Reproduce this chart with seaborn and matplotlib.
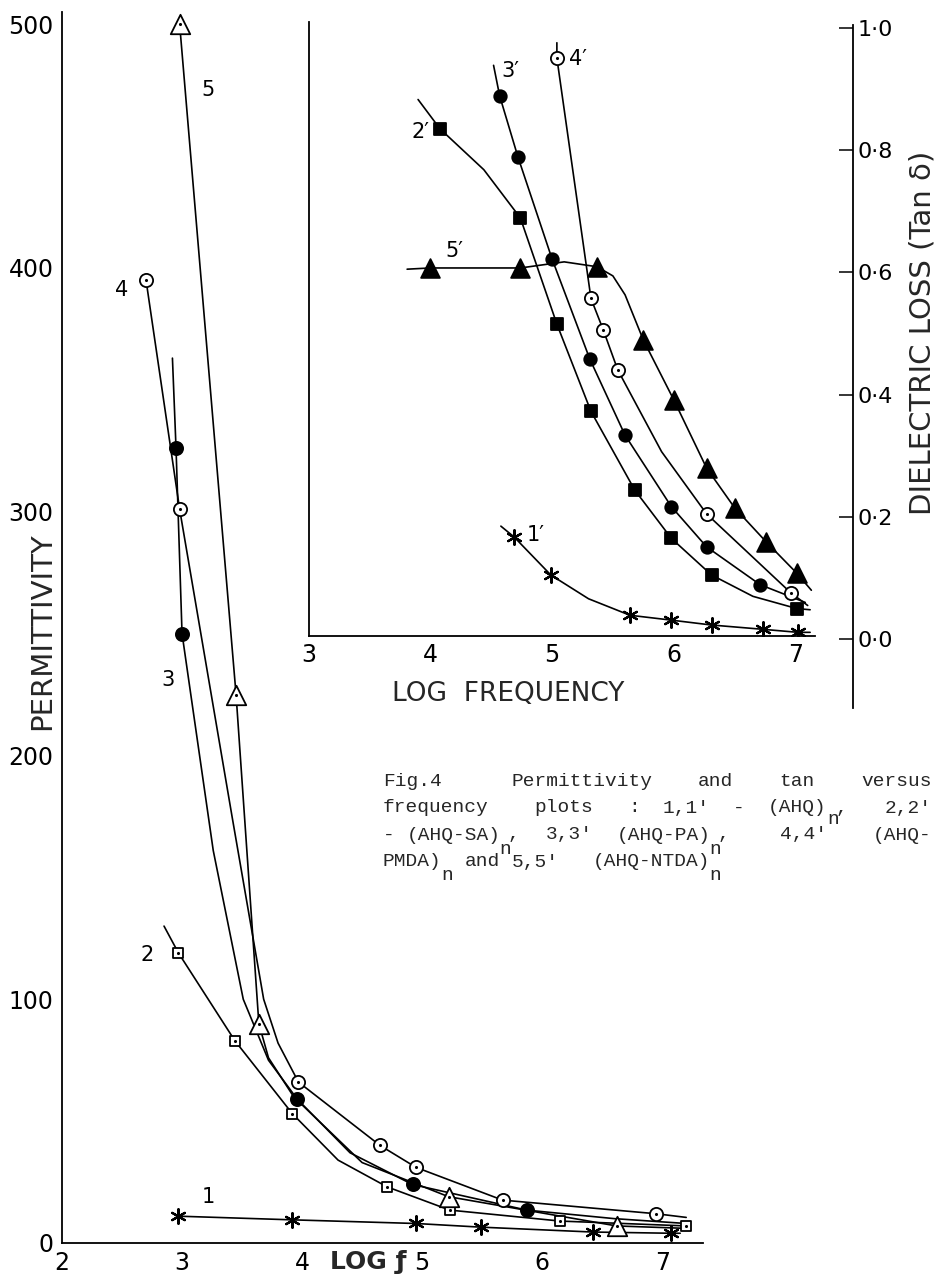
import matplotlib
matplotlib.use("Agg")
import matplotlib.pyplot as plt
import seaborn as sns

# ---------------- data ----------------
# Main plot: permittivity vs log f
p1_x = [2.97, 3.92, 4.95, 5.49, 6.42, 7.07]
p1_y = [11, 9.5, 8, 6.5, 4.5, 4]
p1_cx = [2.97, 3.92, 4.95, 5.49, 6.42, 7.07, 7.15]
p1_cy = [11, 9.5, 8, 6.5, 4.5, 4, 4]

p2_x = [2.97, 3.44, 3.92, 4.71, 5.23, 6.15, 7.20]
p2_y = [119, 83, 53, 23, 13.5, 9, 7]
p2_cx = [2.85, 2.97, 3.44, 3.92, 4.30, 4.71, 5.23, 6.15, 7.20]
p2_cy = [130, 119, 83, 53, 34, 23, 13.5, 9, 7]

p3_x = [2.95, 3.00, 3.96, 4.92, 5.87]
p3_y = [326, 250, 59, 24, 13.5]
p3_cx = [2.92, 2.95, 3.00, 3.26, 3.51, 3.72, 3.96, 4.40, 4.92, 5.87, 6.60, 7.20]
p3_cy = [363, 326, 250, 161, 100, 75, 59, 37, 24, 13.5, 10, 8]

p4_x = [2.70, 2.98, 3.97, 4.65, 4.95, 5.67, 6.95]
p4_y = [395, 301, 66, 40, 31, 17.6, 12]
p4_cx = [2.70, 2.98, 3.42, 3.68, 3.80, 3.97, 4.65, 4.95, 5.67, 6.95, 7.20]
p4_cy = [395, 301, 174, 100, 82, 66, 40, 31, 17.6, 12, 10.5]

p5_x = [2.98, 3.45, 3.64, 5.22, 6.62]
p5_y = [500, 225, 90, 19, 7]
p5_cx = [2.98, 3.45, 3.54, 3.64, 3.72, 3.93, 4.50, 5.22, 6.62, 7.20]
p5_cy = [500, 225, 161, 90, 76, 60, 33, 19, 7, 6]

main_labels = ["1", "2", "3", "4", "5"]
main_label_x = [3.22, 2.71, 2.88, 2.50, 3.22]
main_label_y = [19, 118, 231, 391, 473]

# Inset: dielectric loss (tan delta) vs log frequency
d1_x = [4.69, 4.99, 5.64, 5.98, 6.31, 6.73, 7.02]
d1_y = [0.167, 0.105, 0.039, 0.031, 0.023, 0.016, 0.011]
d1_cx = [4.58, 4.69, 4.99, 5.30, 5.64, 5.98, 6.31, 6.73, 7.02, 7.12]
d1_cy = [0.185, 0.167, 0.105, 0.066, 0.039, 0.031, 0.023, 0.016, 0.011, 0.011]

d2_x = [4.08, 4.74, 5.04, 5.32, 5.68, 5.98, 6.31, 7.01]
d2_y = [0.836, 0.69, 0.516, 0.373, 0.244, 0.165, 0.105, 0.05]
d2_cx = [3.90, 4.08, 4.44, 4.74, 5.04, 5.32, 5.68, 5.98, 6.31, 6.65, 7.01, 7.12]
d2_cy = [0.884, 0.836, 0.769, 0.69, 0.516, 0.373, 0.244, 0.165, 0.105, 0.07, 0.05, 0.048]

d3_x = [4.57, 4.72, 5.00, 5.31, 5.60, 5.98, 6.27, 6.71]
d3_y = [0.89, 0.79, 0.623, 0.459, 0.334, 0.217, 0.151, 0.089]
d3_cx = [4.52, 4.57, 4.72, 5.00, 5.31, 5.60, 5.98, 6.27, 6.71, 7.08]
d3_cy = [0.94, 0.89, 0.79, 0.623, 0.459, 0.334, 0.217, 0.151, 0.089, 0.06]

d4_x = [5.04, 5.32, 5.42, 5.54, 6.27, 6.96]
d4_y = [0.952, 0.558, 0.507, 0.441, 0.205, 0.076]
d4_cx = [5.04, 5.04, 5.32, 5.42, 5.54, 5.90, 6.27, 6.96, 7.10]
d4_cy = [0.977, 0.952, 0.558, 0.507, 0.441, 0.307, 0.205, 0.076, 0.055]

d5_x = [4.00, 4.74, 5.37, 5.75, 6.00, 6.27, 6.50, 6.76, 7.01]
d5_y = [0.608, 0.608, 0.61, 0.49, 0.392, 0.28, 0.215, 0.159, 0.108]
d5_cx = [3.81, 4.00, 4.74, 5.10, 5.37, 5.50, 5.60, 5.75, 6.00, 6.27, 6.50, 6.76, 7.01, 7.13]
d5_cy = [0.606, 0.608, 0.608, 0.618, 0.61, 0.595, 0.564, 0.49, 0.392, 0.28, 0.215, 0.159, 0.108, 0.08]

inset_labels = ["1\u2032", "2\u2032", "3\u2032", "4\u2032", "5\u2032"]
inset_label_x = [4.87, 3.92, 4.66, 5.21, 4.20]
inset_label_y = [0.17, 0.83, 0.93, 0.95, 0.635]

main_xticks = [2, 3, 4, 5, 6, 7]
main_yticks = [0, 100, 200, 300, 400, 500]
inset_xticks = [3, 4, 5, 6, 7]
loss_ticks = [0.0, 0.2, 0.4, 0.6, 0.8, 1.0]
loss_ticklabels = ["0\u00b70", "0\u00b72", "0\u00b74", "0\u00b76", "0\u00b78", "1\u00b70"]

# ---------------- figure ----------------
sns.set_style("white")
plt.rcParams["font.family"] = ["DejaVu Sans"]
W, H = 935, 1280
fig = plt.figure(figsize=(W / 100, H / 100), dpi=100)


def fx(px):
    return px / W


def fy(py):
    return 1 - py / H


LW = 1.2
K = "black"

# main axes
ax = fig.add_axes([fx(62), fy(1243), (703 - 62) / W, (1243 - 12) / H])
ax.set_xlim(2, 7.34)
ax.set_ylim(0, 505)
ax.patch.set_alpha(0)
for s in ["top", "right"]:
    ax.spines[s].set_visible(False)
for s in ["left", "bottom"]:
    ax.spines[s].set_linewidth(1.3)
    ax.spines[s].set_color(K)
ax.set_xticks(main_xticks)
ax.set_yticks(main_yticks)
ax.set_xticklabels([str(t) for t in main_xticks])
ax.set_yticklabels([str(t) for t in main_yticks])
ax.tick_params(axis="both", direction="in", length=11, width=1.1, labelsize=17, colors=K)
ax.tick_params(axis="x", pad=6)
ax.tick_params(axis="y", pad=6)


def curve(a, xs, ys):
    sns.lineplot(x=xs, y=ys, ax=a, color=K, lw=LW, sort=False, estimator=None)


def marks(a, xs, ys, marker, size, face, dot=False, lw=1.3):
    sns.scatterplot(x=xs, y=ys, ax=a, marker=marker, s=size ** 2, facecolor=face,
                    edgecolor=K, linewidth=lw, zorder=5)
    if dot:
        sns.scatterplot(x=xs, y=ys, ax=a, marker="o", s=5, color=K, linewidth=0, zorder=6)


ASTER = (6, 2, 0)

for cx, cy in [(p1_cx, p1_cy), (p2_cx, p2_cy), (p3_cx, p3_cy), (p4_cx, p4_cy), (p5_cx, p5_cy)]:
    curve(ax, cx, cy)
sns.scatterplot(x=p1_x, y=p1_y, ax=ax, marker=ASTER, s=110, color=K, linewidth=1.6, zorder=5)
marks(ax, p2_x, p2_y, "s", 7.5, "white", dot=True)
marks(ax, p3_x, p3_y, "o", 9.5, K)
marks(ax, p4_x, p4_y, "o", 9.5, "white", dot=True)
marks(ax, p5_x, p5_y, "^", 14, "white", dot=True)
for t, xx, yy in zip(main_labels, main_label_x, main_label_y):
    ax.text(xx, yy, t, fontsize=15, ha="center", va="center", color=K)
ax.set_xlabel("")
ax.set_ylabel("")

fig.text(fx(42), fy(631), "PERMITTIVITY", rotation=90, fontsize=21, ha="center", va="center")
fig.text(fx(368), fy(1262), "LOG \u0192", fontsize=18, fontweight="bold", ha="center", va="center")

# inset axes
axi = fig.add_axes([fx(308.5), fy(636), (815 - 308.5) / W, (636 - 22) / H])
axi.set_xlim(3, 7.16)
axi.set_ylim(0.005, 1.011)
axi.patch.set_alpha(0)
for s in ["top", "right"]:
    axi.spines[s].set_visible(False)
for s in ["left", "bottom"]:
    axi.spines[s].set_linewidth(1.3)
    axi.spines[s].set_color(K)
axi.set_xticks(inset_xticks)
axi.set_xticklabels([str(t) for t in inset_xticks])
axi.set_yticks([])
axi.tick_params(axis="x", direction="in", length=11, width=1.1, labelsize=17, pad=5, colors=K)

for cx, cy in [(d1_cx, d1_cy), (d2_cx, d2_cy), (d3_cx, d3_cy), (d4_cx, d4_cy), (d5_cx, d5_cy)]:
    curve(axi, cx, cy)
sns.scatterplot(x=d1_x, y=d1_y, ax=axi, marker=ASTER, s=110, color=K, linewidth=1.6, zorder=5)
marks(axi, d2_x, d2_y, "s", 8.5, K)
marks(axi, d3_x, d3_y, "o", 9, K)
marks(axi, d4_x, d4_y, "o", 9.5, "white", dot=True)
marks(axi, d5_x, d5_y, "^", 13.5, K)
for t, xx, yy in zip(inset_labels, inset_label_x, inset_label_y):
    axi.text(xx, yy, t, fontsize=15, ha="center", va="center", color=K)
axi.set_xlabel("")
axi.set_ylabel("")

fig.text(fx(508), fy(694), "LOG  FREQUENCY", fontsize=19, ha="center", va="center")

# right-hand loss axis
axr = fig.add_axes([fx(853), fy(708), 0.0005, (708 - 25) / H])
axr.set_ylim((639 - 708) / 611.0, (639 - 25) / 611.0)
axr.set_xlim(0, 1)
axr.patch.set_alpha(0)
for s in ["top", "right", "bottom"]:
    axr.spines[s].set_visible(False)
axr.spines["left"].set_linewidth(1.3)
axr.spines["left"].set_color(K)
axr.set_xticks([])
axr.set_yticks(loss_ticks)
axr.set_yticklabels(loss_ticklabels)
axr.tick_params(axis="y", left=True, right=False, labelleft=False, labelright=True,
                direction="out", length=10, width=1.1, labelsize=16, pad=-7, colors=K)
fig.text(fx(922), fy(333), "DIELECTRIC LOSS (Tan \u03b4)", rotation=90, fontsize=21,
         ha="center", va="center")

# caption (typewriter style)
CAP_FONT = "Liberation Mono"
CS = 14
CW = 0.6 * CS * 100 / 72  # px per character
X0 = 383
cap_lines = [
    (782, [(0, "Fig.4"), (11, "Permittivity"), (27, "and"), (34, "tan"), (41, "versus")]),
    (808, [(0, "frequency"), (13, "plots"), (21, ":"), (24, "1,1'"), (30, "-"), (33, "(AHQ)"),
           (38.8, ","), (43, "2,2'")]),
    (835, [(0, "-"), (2, "(AHQ-SA)"), (10.7, ","), (14, "3,3'"), (20, "(AHQ-PA)"), (28.7, ","),
           (34, "4,4'"), (42, "(AHQ-")]),
    (862, [(0, "PMDA)"), (7, "and"), (11, "5,5'"), (18, "(AHQ-NTDA)")]),
]
# subscript "n" marks (y of its line, character cell, drop in px)
cap_n = [(808, 38.1, 12), (835, 10, 14), (835, 28, 14), (862, 5, 13), (862, 28, 13)]
for yy, items in cap_lines:
    for ci, txt in items:
        fig.text(fx(X0 + ci * CW), fy(yy), txt, fontsize=CS, family=CAP_FONT,
                 ha="left", va="center")
for yy, ci, dy in cap_n:
    fig.text(fx(X0 + ci * CW), fy(yy + dy), "n", fontsize=CS, family=CAP_FONT,
             ha="left", va="center")

fig.savefig("out.png", dpi=100)
